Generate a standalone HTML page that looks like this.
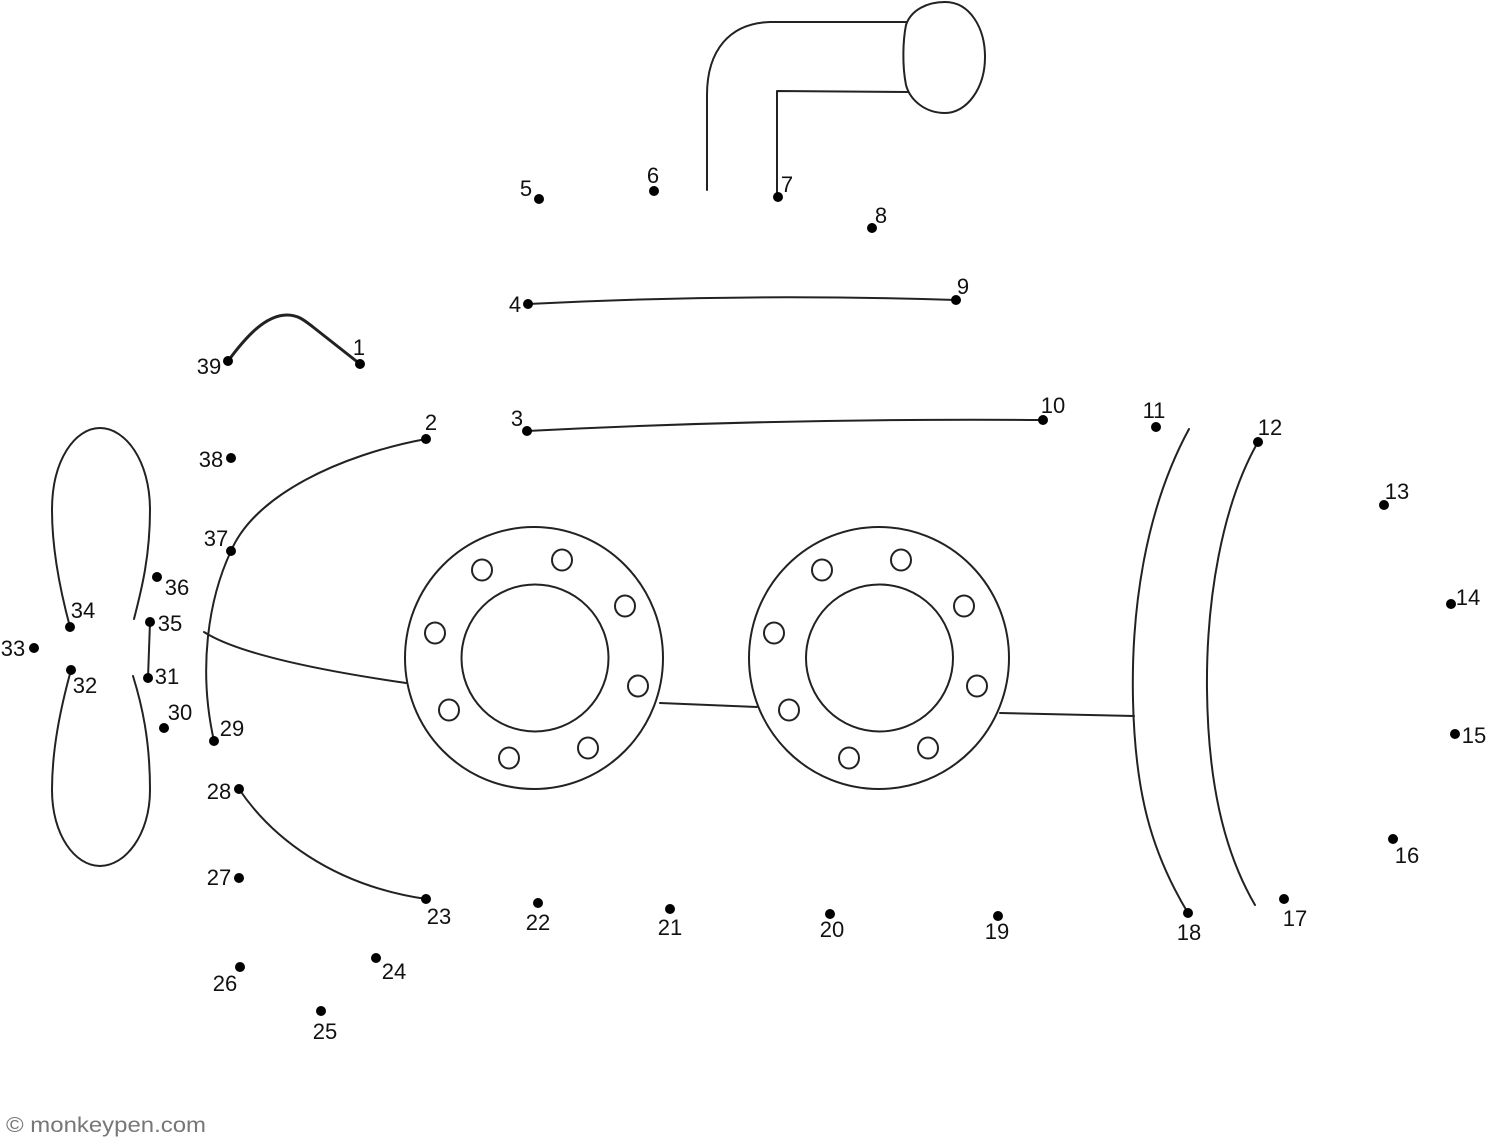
<!DOCTYPE html>
<html>
<head>
<meta charset="utf-8">
<style>
html,body{margin:0;padding:0;background:#fff;}
svg{display:block;}
text{font-family:"Liberation Sans",sans-serif;font-size:22px;fill:#111;}
</style>
</head>
<body>
<svg width="1487" height="1138" viewBox="0 0 1487 1138" xmlns="http://www.w3.org/2000/svg">
<g fill="none" stroke="#222" stroke-width="2" stroke-linecap="round" stroke-linejoin="round">
  <!-- periscope -->
  <path d="M707,190 L707,95 C707,50 730,23 770,22 L907,22"/>
  <path d="M777,197 L777,91 L908,92"/>
  <path d="M945,2 C970,2 985,28 985,57 C985,88 967,113 945,113 C925,113 910,100 906,85 C902,65 903,40 906,25 C911,10 927,2 945,2 Z"/>
  <!-- 39 - 1 -->
  <path d="M228,361 C245,338 265,315 287,315 C298,315 304,320 313,327 L360,364" stroke-width="3"/>
  <!-- 4-9, 3-10 -->
  <path d="M528,304 Q740,293 956,300"/>
  <path d="M527,431 Q780,418 1043,420"/>
  <!-- nose arc 2-37-29 -->
  <path d="M426,439 C340,455 255,495 231,551 C208,600 198,670 214,741"/>
  <path d="M204,632 C240,655 330,672 406,683"/>
  <!-- 28-23 -->
  <path d="M239,789 C270,835 330,885 426,899"/>
  <!-- portholes -->
  <ellipse cx="534" cy="658" rx="129" ry="131"/>
  <circle cx="535" cy="658" r="73.5"/>
  <ellipse cx="879" cy="658" rx="130" ry="131"/>
  <circle cx="879.5" cy="658" r="73.5"/>
  <g>
    <ellipse cx="482" cy="570" rx="10" ry="10.5"/>
    <ellipse cx="562" cy="560" rx="10" ry="10.5"/>
    <ellipse cx="625" cy="606" rx="10" ry="10.5"/>
    <ellipse cx="638" cy="686" rx="10" ry="10.5"/>
    <ellipse cx="588" cy="748" rx="10" ry="10.5"/>
    <ellipse cx="509" cy="758" rx="10" ry="10.5"/>
    <ellipse cx="449" cy="710" rx="10" ry="10.5"/>
    <ellipse cx="435" cy="633" rx="10" ry="10.5"/>
    <ellipse cx="822" cy="570" rx="10" ry="10.5"/>
    <ellipse cx="901" cy="560" rx="10" ry="10.5"/>
    <ellipse cx="964" cy="606" rx="10" ry="10.5"/>
    <ellipse cx="977" cy="686" rx="10" ry="10.5"/>
    <ellipse cx="928" cy="748" rx="10" ry="10.5"/>
    <ellipse cx="849" cy="758" rx="10" ry="10.5"/>
    <ellipse cx="789" cy="710" rx="10" ry="10.5"/>
    <ellipse cx="774" cy="633" rx="10" ry="10.5"/>
  </g>
  <path d="M660,703 L757,707"/>
  <path d="M1000,713 L1134,716"/>
  <!-- tail arcs -->
  <path d="M1189,429 C1145,510 1131,610 1133,700 C1135,790 1150,850 1188,913"/>
  <path d="M1258,442 C1222,505 1206,600 1207,690 C1208,780 1223,850 1255,905"/>
  <!-- propeller -->
  <path d="M70,627 C60,590 52,550 52,510 C52,460 75,428 100,428 C125,428 150,460 150,510 C150,560 140,595 134,619"/>
  <path d="M71,670 C60,710 52,750 52,790 C52,835 75,866 100,866 C125,866 150,835 150,790 C150,740 142,705 133,676"/>
  <path d="M150,622 L148,678"/>
</g>
<g fill="#000">
  <circle cx="360" cy="364" r="5"/>
  <circle cx="426" cy="439" r="5"/>
  <circle cx="527" cy="431" r="5"/>
  <circle cx="528" cy="304" r="5"/>
  <circle cx="539" cy="199" r="5"/>
  <circle cx="654" cy="191" r="5"/>
  <circle cx="778" cy="197" r="5"/>
  <circle cx="872" cy="228" r="5"/>
  <circle cx="956" cy="300" r="5"/>
  <circle cx="1043" cy="420" r="5"/>
  <circle cx="1156" cy="427" r="5"/>
  <circle cx="1258" cy="442" r="5"/>
  <circle cx="1384" cy="505" r="5"/>
  <circle cx="1451" cy="604" r="5"/>
  <circle cx="1455" cy="734" r="5"/>
  <circle cx="1393" cy="839" r="5"/>
  <circle cx="1284" cy="899" r="5"/>
  <circle cx="1188" cy="913" r="5"/>
  <circle cx="998" cy="916" r="5"/>
  <circle cx="830" cy="914" r="5"/>
  <circle cx="670" cy="909" r="5"/>
  <circle cx="538" cy="903" r="5"/>
  <circle cx="426" cy="899" r="5"/>
  <circle cx="376" cy="958" r="5"/>
  <circle cx="321" cy="1011" r="5"/>
  <circle cx="240" cy="967" r="5"/>
  <circle cx="239" cy="878" r="5"/>
  <circle cx="239" cy="789" r="5"/>
  <circle cx="214" cy="741" r="5"/>
  <circle cx="164" cy="728" r="5"/>
  <circle cx="148" cy="678" r="5"/>
  <circle cx="71" cy="670" r="5"/>
  <circle cx="34" cy="648" r="5"/>
  <circle cx="70" cy="627" r="5"/>
  <circle cx="150" cy="622" r="5"/>
  <circle cx="157" cy="577" r="5"/>
  <circle cx="231" cy="551" r="5"/>
  <circle cx="231" cy="458" r="5"/>
  <circle cx="228" cy="361" r="5"/>
</g>
<g text-anchor="middle">
  <text x="359" y="355">1</text>
  <text x="431" y="430">2</text>
  <text x="517" y="426">3</text>
  <text x="515" y="312">4</text>
  <text x="526" y="196">5</text>
  <text x="653" y="183">6</text>
  <text x="787" y="192">7</text>
  <text x="881" y="223">8</text>
  <text x="963" y="294">9</text>
  <text x="1053" y="413">10</text>
  <text x="1154" y="418">11</text>
  <text x="1270" y="435">12</text>
  <text x="1397" y="499">13</text>
  <text x="1468" y="605">14</text>
  <text x="1474" y="743">15</text>
  <text x="1407" y="863">16</text>
  <text x="1295" y="926">17</text>
  <text x="1189" y="940">18</text>
  <text x="997" y="939">19</text>
  <text x="832" y="937">20</text>
  <text x="670" y="935">21</text>
  <text x="538" y="930">22</text>
  <text x="439" y="924">23</text>
  <text x="394" y="979">24</text>
  <text x="325" y="1039">25</text>
  <text x="225" y="991">26</text>
  <text x="219" y="885">27</text>
  <text x="219" y="799">28</text>
  <text x="232" y="736">29</text>
  <text x="180" y="720">30</text>
  <text x="167" y="684">31</text>
  <text x="85" y="693">32</text>
  <text x="13" y="656">33</text>
  <text x="83" y="618">34</text>
  <text x="170" y="631">35</text>
  <text x="177" y="595">36</text>
  <text x="216" y="546">37</text>
  <text x="211" y="467">38</text>
  <text x="209" y="374">39</text>
</g>
<text x="6" y="1132" style="font-size:21px;fill:#777;" textLength="200" lengthAdjust="spacingAndGlyphs">© monkeypen.com</text>
</svg>
</body>
</html>
